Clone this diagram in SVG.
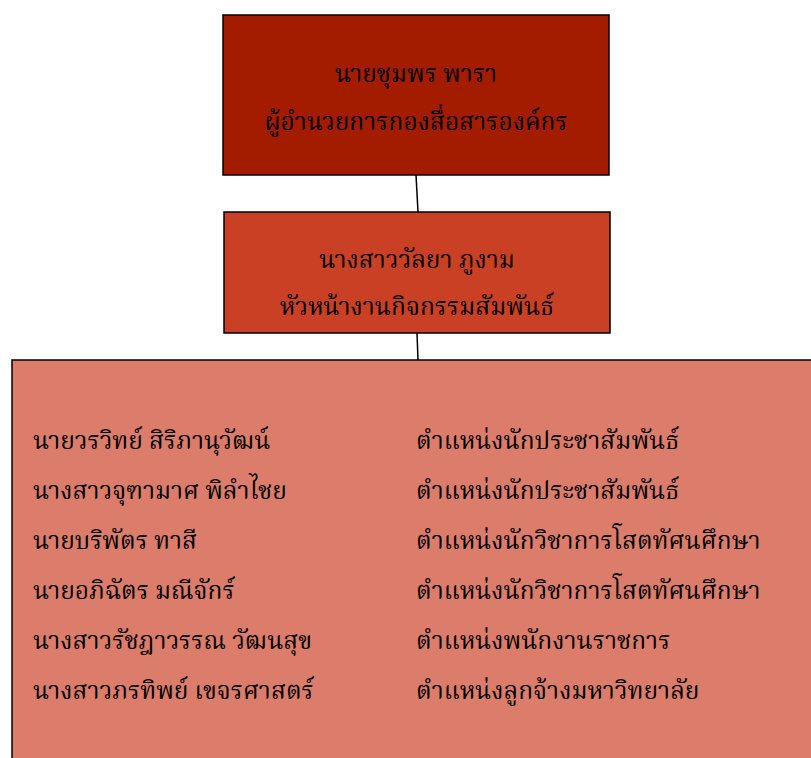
<svg xmlns="http://www.w3.org/2000/svg" width="811" height="758" viewBox="0 0 811 758">
<style>
text{font-family:"Liberation Serif","Noto Serif Thai","Noto Sans Thai",serif;font-size:24.5px;fill:#000}
.c{text-anchor:middle}
.box{stroke:#000;stroke-width:1.5}
.conn line{stroke:#000;stroke-width:1.5}
</style>
<rect width="811" height="758" fill="#fff"/>
<g class="conn">
<line x1="416" y1="175" x2="418" y2="212"/>
<line x1="417" y1="333" x2="418" y2="360"/>
</g>
<g id="director">
<rect class="box" x="223" y="15" width="386" height="160" fill="#A31C00"/>
<text class="c" x="416" y="82">นายชุมพร พารา</text>
<text class="c" x="416" y="130">ผู้อำนวยการกองสื่อสารองค์กร</text>
</g>
<g id="head">
<rect class="box" x="224" y="212" width="386" height="121" fill="#CA4025"/>
<text class="c" x="417" y="268">นางสาววัลยา ภูงาม</text>
<text class="c" x="417" y="315">หัวหน้างานกิจกรรมสัมพันธ์</text>
</g>
<g id="staff">
<rect class="box" x="12" y="360" width="810" height="410" fill="#DC7C6A"/>
<text x="33" y="449">นายวรวิทย์ สิริภานุวัฒน์</text>
<text x="33" y="499">นางสาวจุฑามาศ พิลำไชย</text>
<text x="33" y="549">นายบริพัตร ทาสี</text>
<text x="33" y="599">นายอภิฉัตร มณีจักร์</text>
<text x="33" y="649">นางสาวรัชฎาวรรณ วัฒนสุข</text>
<text x="33" y="699">นางสาวภรทิพย์ เขจรศาสตร์</text>
<text x="416" y="449">ตำแหน่งนักประชาสัมพันธ์</text>
<text x="416" y="499">ตำแหน่งนักประชาสัมพันธ์</text>
<text x="416" y="549">ตำแหน่งนักวิชาการโสตทัศนศึกษา</text>
<text x="416" y="599">ตำแหน่งนักวิชาการโสตทัศนศึกษา</text>
<text x="416" y="649">ตำแหน่งพนักงานราชการ</text>
<text x="416" y="699">ตำแหน่งลูกจ้างมหาวิทยาลัย</text>
</g>
</svg>
